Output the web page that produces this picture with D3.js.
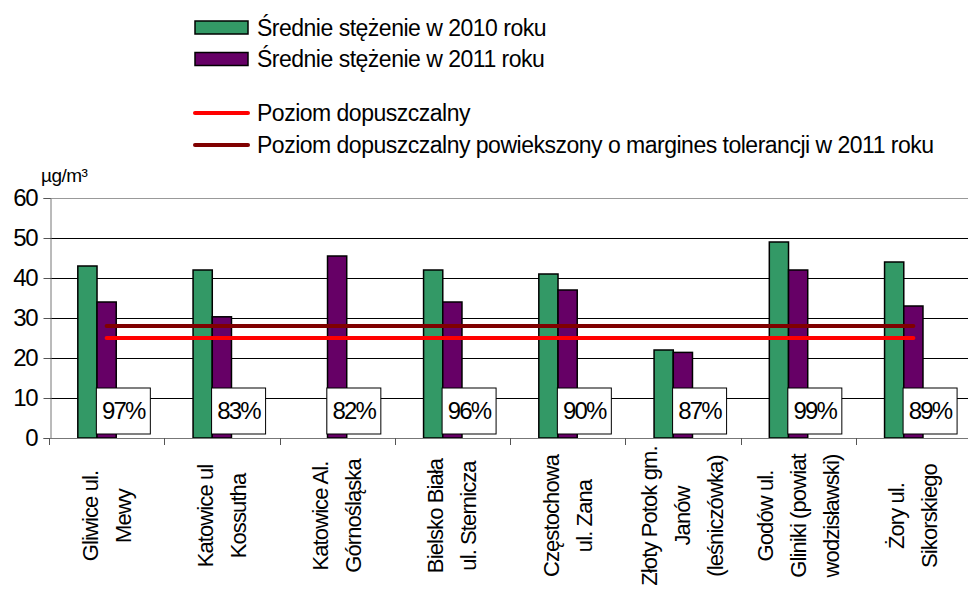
<!DOCTYPE html>
<html><head><meta charset="utf-8">
<script src="https://cdn.jsdelivr.net/npm/d3@7/dist/d3.min.js"></script>
<style>body{margin:0;background:#fff}svg{display:block;font-family:"Liberation Sans",Arial,sans-serif}</style>
</head><body><svg id="c" width="968" height="597"></svg>
<script>
const categories = [
  ["Gliwice ul.","Mewy"],
  ["Katowice ul","Kossutha"],
  ["Katowice Al.","Górnośląska"],
  ["Bielsko Biała","ul. Sternicza"],
  ["Częstochowa","ul. Zana"],
  ["Złoty Potok gm.","Janów","(leśniczówka)"],
  ["Godów ul.","Gliniki (powiat","wodzisławski)"],
  ["Żory ul.","Sikorskiego"]
];
const values2010 = [43, 42, null, 42, 41, 22, 49, 44];
const values2011 = [34, 30.3, 45.5, 34, 37, 21.4, 42, 33];
const pctLabels = ["97%","83%","82%","96%","90%","87%","99%","89%"];
const limitValue = 25;
const limitTolValue = 28;
const yTicks = [0,10,20,30,40,50,60];
const seriesNames = ["Średnie stężenie w 2010 roku","Średnie stężenie w 2011 roku"];
const lineNames = ["Poziom dopuszczalny","Poziom dopuszczalny powiekszony o margines tolerancji w 2011 roku"];
const unitLabel = "µg/m³";

const svg = d3.select("#c");
const keys = categories.map((c,i)=>String(i));
const x = d3.scaleBand().domain(keys).range([49, 971]).padding(0);
const x1 = d3.scaleBand().domain(["a","b","p"]).range([0, x.bandwidth()]).paddingInner(0).paddingOuter(1.5);
const y = d3.scaleLinear().domain([0,60]).range([438,198]);
const right = 971;

// gridlines
svg.append("g").selectAll("line").data(yTicks.filter(t=>t>0 && t<60)).join("line")
  .attr("x1",50).attr("x2",right).attr("y1",d=>y(d)+0.5).attr("y2",d=>y(d)+0.5)
  .attr("stroke","#000").attr("stroke-width",1);
// top frame
svg.append("line").attr("x1",50).attr("x2",right).attr("y1",y(60)+0.5).attr("y2",y(60)+0.5).attr("stroke","#999");

// y axis
const ya = svg.append("g").attr("transform","translate(50.5,0)")
  .call(d3.axisLeft(y).tickValues(yTicks).tickSize(7).tickPadding(4).tickFormat(d3.format("d")));
ya.select(".domain").attr("stroke","#777");
ya.selectAll(".tick line").attr("stroke","#555");
ya.selectAll(".tick text").attr("font-size",24).attr("fill","#000").attr("letter-spacing",-1.2)
  .attr("font-family",'"Liberation Sans",Arial,sans-serif').attr("dx",-2);

// bars
const grp = svg.append("g");
grp.selectAll("rect.a").data(values2010.map((v,i)=>({v,i})).filter(d=>d.v!=null)).join("rect")
  .attr("x",d=>x(String(d.i))+x1("a")).attr("width",x1.bandwidth())
  .attr("y",d=>y(d.v)).attr("height",d=>y(0)-y(d.v))
  .attr("fill","#339966").attr("stroke","#000").attr("stroke-width",1.5);
grp.selectAll("rect.b").data(values2011.map((v,i)=>({v,i}))).join("rect")
  .attr("x",d=>x(String(d.i))+x1("b")).attr("width",x1.bandwidth())
  .attr("y",d=>y(d.v)).attr("height",d=>y(0)-y(d.v))
  .attr("fill","#660066").attr("stroke","#000").attr("stroke-width",1.5);

// x axis baseline + ticks
svg.append("line").attr("x1",50).attr("x2",right).attr("y1",438.5).attr("y2",438.5).attr("stroke","#777");
svg.append("g").selectAll("line").data(keys.concat(["end"])).join("line")
  .attr("x1",d=>d==="end"?right:Math.round(x(d))+0.5).attr("x2",d=>d==="end"?right:Math.round(x(d))+0.5)
  .attr("y1",438).attr("y2",445).attr("stroke","#555");

// lines
const cx = i => x(String(i)) + x.bandwidth()/2;
const line = d3.line().x(d=>cx(d.i)).y(d=>y(d.v));
svg.append("path").datum(keys.map((k,i)=>({i,v:limitTolValue}))).attr("d",line)
  .attr("stroke","#800000").attr("stroke-width",4).attr("fill","none").attr("stroke-linecap","round");
svg.append("path").datum(keys.map((k,i)=>({i,v:limitValue}))).attr("d",line)
  .attr("stroke","#ff0000").attr("stroke-width",4).attr("fill","none").attr("stroke-linecap","round");

// percent labels
const lab = svg.append("g").selectAll("g").data(pctLabels).join("g")
  .attr("transform",(d,i)=>`translate(${x(String(i))+x1("p")+x1.bandwidth()/2-2.5},411)`);
lab.append("rect").attr("x",-27).attr("y",-23).attr("width",54).attr("height",46)
  .attr("fill","#fff").attr("stroke","#000").attr("stroke-width",1);
lab.append("text").text(d=>d).attr("text-anchor","middle").attr("dominant-baseline","central")
  .attr("y",-1).attr("font-size",24).attr("letter-spacing",-1.8);

// category labels
const cl = svg.append("g").selectAll("text").data(categories).join("text")
  .attr("transform",(d,i)=>`translate(${cx(i)},516) rotate(-90)`)
  .attr("text-anchor","middle").attr("font-size",22).attr("letter-spacing",-0.9);
cl.each(function(lines){
  const t = d3.select(this);
  lines.forEach((ln,j)=>{
    t.append("tspan").attr("x",0).attr("y",(j-(lines.length-1)/2)*33)
      .attr("dominant-baseline","central").text(ln);
  });
});

// unit
svg.append("text").attr("x",41).attr("y",175).attr("dominant-baseline","central")
  .attr("font-size",19).attr("letter-spacing",-0.5).text(unitLabel);

// legend
const lg = svg.append("g");
const rowsY = [27.5, 59];
const cols = ["#339966","#660066"];
seriesNames.forEach((n,i)=>{
  lg.append("rect").attr("x",195).attr("y",rowsY[i]-6.5).attr("width",53).attr("height",13)
    .attr("fill",cols[i]).attr("stroke","#000").attr("stroke-width",1.5);
  lg.append("text").attr("x",257).attr("y",rowsY[i]).attr("dominant-baseline","central")
    .attr("font-size",23).attr("letter-spacing",-0.5).text(n);
});
const lRowsY = [113, 145];
const lcols = ["#ff0000","#800000"];
lineNames.forEach((n,i)=>{
  lg.append("line").attr("x1",195).attr("x2",248).attr("y1",lRowsY[i]).attr("y2",lRowsY[i])
    .attr("stroke",lcols[i]).attr("stroke-width",4).attr("stroke-linecap","round");
  lg.append("text").attr("x",257).attr("y",lRowsY[i]).attr("dominant-baseline","central")
    .attr("font-size",23).attr("letter-spacing",-0.5).text(n);
});
</script></body></html>
